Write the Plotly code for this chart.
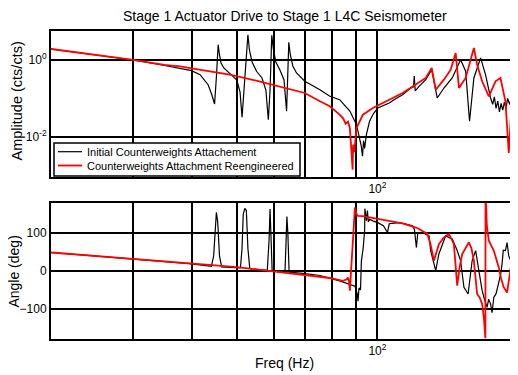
import plotly.graph_objects as go
from plotly.subplots import make_subplots

title_text = "Stage 1 Actuator Drive to Stage 1 L4C Seismometer"
series_names = ["Initial Counterweights Attachement", "Counterweights Attachment Reengineered"]

# ---- Amplitude, initial (black) ----
f_amp_init = [20.0, 25.0, 30.0, 35.0, 40.0, 41.7, 43.4, 44.2, 44.8, 45.2, 45.4, 45.6, 45.9, 46.25, 46.9,
              47.6, 48.8, 50.0, 50.8, 51.3, 51.8, 52.3, 52.8, 53.2, 53.9, 55.1, 56.6, 57.7, 58.4, 58.9,
              59.2, 59.4, 59.9, 60.6, 61.8, 63.1, 63.9, 64.3, 64.6, 65.1, 65.9, 67.1, 69.9, 75.3, 79.1,
              83.0, 87.3, 90.2, 91.7, 92.3, 92.9, 93.4, 93.9, 94.7, 96.2, 98.0, 100.2, 103.0, 106.0,
              109.0, 113.2, 117.7, 119.5, 119.9, 120.5, 122.8, 126.9, 130.7, 134.3, 138.8, 144.6, 150.7,
              154.5, 157.5, 160.9, 166.3, 170.4, 174.7, 176.5, 178.0, 179.5, 181.0, 182.5, 184.0, 185.5,
              187.0, 188.5, 190.0, 192.0, 194.2, 196.5, 198.7]
a_amp_init = [1.93, 1.35, 1.0, 0.72, 0.527, 0.415, 0.228, 0.125, 0.072, 0.35, 1.0, 2.5, 1.35, 0.836, 0.62,
              0.518, 0.384, 0.302, 0.1475, 0.0325, 0.166, 1.0, 4.54, 1.82, 0.887, 0.509, 0.341, 0.166, 0.0281, 0.166,
              1.35, 4.38, 1.82, 0.887, 0.56, 0.302, 0.0465, 0.408, 2.88, 1.35, 0.698, 0.46, 0.28, 0.169, 0.114,
              0.093, 0.0473, 0.0209, 0.0094, 0.006, 0.00315, 0.008, 0.005, 0.0115, 0.0256, 0.04, 0.0567, 0.065, 0.0764,
              0.095, 0.1255, 0.184, 0.2, 0.384, 0.157, 0.207, 0.308, 0.56, 0.103, 0.187, 0.341, 1.02,
              0.509, 0.0256, 0.341, 1.13, 0.415, 0.103, 0.07, 0.11, 0.055, 0.085, 0.045, 0.075, 0.05,
              0.08, 0.055, 0.1, 0.07, 0.1255, 0.09, 0.154]

# ---- Amplitude, reengineered (red) ----
f_amp_new = [20.0, 25.0, 30.0, 35.0, 37.8, 40.0, 48.3, 55.0, 61.8, 69.9, 75.3, 79.1, 83.0, 84.5, 85.5,
             86.5, 87.3, 87.9, 88.5, 88.7, 89.2, 90.2, 91.5, 93.1, 97.8, 104.3, 113.2, 117.0, 122.8, 126.9,
             130.7, 133.3, 138.8, 143.5, 147.1, 149.5, 154.5, 160.9, 163.5, 167.6, 173.2, 179.0, 183.4,
             188.0, 191.1, 194.2, 198.7]
a_amp_new = [1.93, 1.37, 1.0, 0.75, 0.686, 0.609, 0.415, 0.29, 0.207, 0.139, 0.0846, 0.0627, 0.038, 0.03, 0.022,
             0.025, 0.0171, 0.006, 0.00142, 0.0063, 0.004, 0.0171, 0.025, 0.038, 0.0567, 0.0846, 0.139, 0.18, 0.27, 0.341,
             0.62, 0.169, 0.308, 0.56, 1.52, 0.187, 0.341, 2.05, 0.755, 0.28, 0.114, 0.28, 0.341,
             0.0846, 0.00384, 0.103, 0.154]

# ---- Phase, initial (black) ----
f_ph_init = [20.0, 25.0, 30.0, 35.0, 40.0, 44.1, 44.6, 45.0, 45.2, 45.5, 45.9, 46.4, 50.9, 51.3, 51.6, 52.0,
             52.4, 52.8, 53.3, 58.1, 58.6, 58.9, 59.1, 59.5, 63.4, 63.8, 64.0, 64.3, 64.7, 70.0, 75.3, 83.0,
             87.3, 89.5, 90.5, 90.9, 91.3, 92.0, 92.4, 93.2, 93.9, 94.0, 94.7, 95.2, 95.6, 96.2, 98.0, 100.2,
             103.0, 105.1, 106.0, 111.3, 115.0, 118.9, 120.0, 121.2, 122.0, 124.8, 129.0, 130.0, 133.3, 135.4,
             140.0, 144.6, 148.2, 150.7, 153.2, 156.4, 159.5, 162.3, 164.9, 167.6, 170.0, 171.8, 173.0,
             174.7, 176.0, 177.5, 179.5, 181.9, 183.5, 184.9, 186.0, 188.0, 189.5, 191.1, 194.2, 196.5, 198.7]
p_ph_init = [49, 40, 32, 25, 18.5, 12, 40, 140, 155, 130, 40, 11, 8, 60, 150, 166,
             160, 60, 6, 2, 80, 164, 120, 2, -2, 70, 144, 100, -3, -7, -12, -26,
             -34, -40, -60, -80, -45, -50, 27, 60, 107, 165, 133, 160, 130, 137, 132, 128,
             120, 102, 125, 128, 124, 120, 110, 62, 100, 102, 93, 54, 1, 45,
             93, 85, 54, 27, -43, -61, 27, 54, 1, -52, -80, -96, -75,
             -87, -110, -70, -60, -34, -10, 19, 55, 54, 75, 40, 19, 40, 10]

# ---- Phase, reengineered (red) ----
f_ph_new = [20.0, 25.0, 30.0, 37.8, 45.0, 50.6, 55.0, 61.8, 70.0, 79.1, 84.4, 86.0, 86.5, 87.0, 87.3, 87.6,
            88.0, 88.7, 89.5, 90.2, 90.9, 93.0, 96.2, 104.3, 113.2, 120.9, 122.8, 127.9, 130.0, 132.1,
            135.4, 138.8, 142.3, 145.8, 147.0, 148.2, 150.0, 151.9, 157.0, 159.0, 160.9, 163.5, 165.5,
            167.6, 169.0, 170.3, 170.4, 170.9, 171.5, 173.2, 177.5, 181.9, 184.0, 186.4, 189.5, 191.0,
            192.7, 195.8, 198.7]
p_ph_new = [49, 40, 32, 23, 15, 9.5, 4, -3.7, -10, -18.5, -26, -22, -17, -30, -52, -20,
            27, 98, 168, 150, 146, 145, 142, 135, 126, 115, 111, 98, 70, 27,
            71, 89, 98, 71, 20, -39, 10, 45, 76, 60, 27, -61, -70,
            -87, -123, -178, 180, 177, 120, 80, 54, 9.5, -20, -43, -57, -30,
            9.5, 62, 54]

x_grid_vals = [30, 40, 50, 60, 70, 80, 90, 100, 200]
x_grid_text = ["", "", "", "", "", "", "", "10<sup>2</sup>", ""]
amp_tick_vals = [0.01, 1]
amp_tick_text = ["10<sup>-2</sup>", "10<sup>0</sup>"]
ph_tick_vals = [-100, 0, 100]

FONT = "Liberation Sans, Arial, sans-serif"
BLACK = "#000000"
RED = "#ff0000"

fig = make_subplots(rows=2, cols=1, vertical_spacing=0.0)

fig.add_trace(go.Scatter(x=f_amp_init, y=a_amp_init, mode="lines", name=series_names[0], showlegend=False,
                         line=dict(color=BLACK, width=1.2)), row=1, col=1)
fig.add_trace(go.Scatter(x=f_amp_new, y=a_amp_new, mode="lines", name=series_names[1], showlegend=False,
                         line=dict(color=RED, width=1.8)), row=1, col=1)
fig.add_trace(go.Scatter(x=f_ph_init, y=p_ph_init, mode="lines", name=series_names[0], showlegend=False,
                         line=dict(color=BLACK, width=1.2)), row=2, col=1)
fig.add_trace(go.Scatter(x=f_ph_new, y=p_ph_new, mode="lines", name=series_names[1], showlegend=False,
                         line=dict(color=RED, width=1.8)), row=2, col=1)

xcommon = dict(type="log", range=[1.30103, 2.30103], tickvals=x_grid_vals, ticktext=x_grid_text,
               showgrid=True, gridcolor=BLACK, gridwidth=2, showline=True, mirror=True,
               linecolor=BLACK, linewidth=2, ticks="", tickfont=dict(family=FONT, size=12, color=BLACK))
fig.update_xaxes(**xcommon, domain=[0, 1], row=1, col=1)
fig.update_xaxes(**xcommon, domain=[0, 1], row=2, col=1)

fig.update_yaxes(type="log", range=[-3.04, 0.753], tickvals=amp_tick_vals, ticktext=amp_tick_text,
                 showgrid=True, gridcolor=BLACK, gridwidth=2, showline=True, mirror=False,
                 linecolor=BLACK, linewidth=2, ticks="", zeroline=False,
                 tickfont=dict(family=FONT, size=12, color=BLACK), domain=[0.526, 1.0], row=1, col=1)
fig.update_yaxes(range=[-180, 180], tickvals=ph_tick_vals,
                 showgrid=True, gridcolor=BLACK, gridwidth=2, showline=True, mirror=False,
                 linecolor=BLACK, linewidth=2, ticks="", zeroline=False,
                 tickfont=dict(family=FONT, size=12, color=BLACK), domain=[0.0, 0.4416], row=2, col=1)

annots = [
    dict(text=title_text, x=0.5, y=1.05, xref="paper", yref="paper", showarrow=False,
         xanchor="center", yanchor="middle", font=dict(family=FONT, size=14, color=BLACK)),
    dict(text="Amplitude (cts/cts)", x=-0.073, y=0.774, xref="paper", yref="paper", showarrow=False,
         textangle=-90, xanchor="center", yanchor="middle", font=dict(family=FONT, size=14.5, color=BLACK)),
    dict(text="Angle (deg)", x=-0.0785, y=0.22, xref="paper", yref="paper", showarrow=False,
         textangle=-90, xanchor="center", yanchor="middle", font=dict(family=FONT, size=14, color=BLACK)),
    dict(text="Freq (Hz)", x=0.5, y=-0.078, xref="paper", yref="paper", showarrow=False,
         xanchor="center", yanchor="middle", font=dict(family=FONT, size=14, color=BLACK)),
]

# legend (drawn as box + samples + labels inside the amplitude panel)
leg_x0, leg_x1, leg_y0, leg_y1 = 0.0064, 0.5332, 0.5292, 0.6364
row_y = [0.6081, 0.5633]
row_col = [BLACK, RED]
row_w = [1.2, 1.8]
shapes = [dict(type="rect", xref="paper", yref="paper", x0=leg_x0, x1=leg_x1, y0=leg_y0, y1=leg_y1,
               fillcolor="#ffffff", line=dict(color=BLACK, width=1.5), layer="above")]
for yy, cc, ww, nm in zip(row_y, row_col, row_w, series_names):
    shapes.append(dict(type="line", xref="paper", yref="paper", x0=0.015, x1=0.0664, y0=yy, y1=yy,
                       line=dict(color=cc, width=ww), layer="above"))
    annots.append(dict(text=nm, x=0.0728, y=yy, xref="paper", yref="paper", showarrow=False,
                       xanchor="left", yanchor="middle", font=dict(family=FONT, size=11, color=BLACK)))

# page body has an 8px margin: the figure is sized so that its plot area lands where the reference has it
fig.update_layout(
    width=510, height=367,
    margin=dict(l=43, r=0, t=23, b=36),
    paper_bgcolor="#ffffff", plot_bgcolor="#ffffff",
    annotations=annots, shapes=shapes,
    showlegend=False,
    font=dict(family=FONT, color=BLACK),
)

fig.write_html("out.html")
